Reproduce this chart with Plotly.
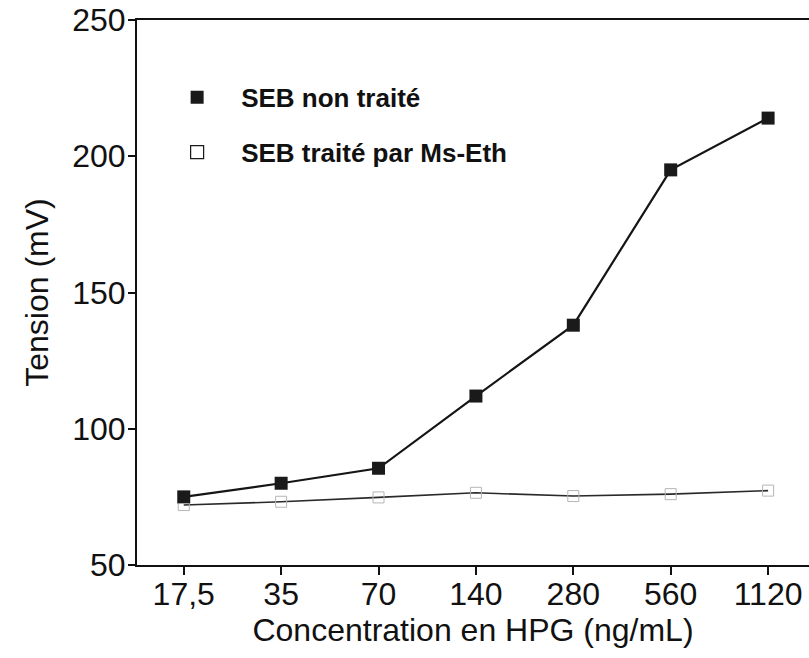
import plotly.graph_objects as go

concentrations = ["17,5", "35", "70", "140", "280", "560", "1120"]
seb_non_traite = [75, 80, 85.5, 112, 138, 195, 214]
seb_traite = [72, 73.2, 74.8, 76.5, 75.3, 76, 77.3]

fig = go.Figure()

# lignes + marqueurs
fig.add_trace(go.Scatter(
    x=concentrations, y=seb_traite, mode="lines+markers",
    line=dict(color="#2a2a2a", width=1.6),
    marker=dict(symbol="square-open", size=11, color="#b5b5b5", line=dict(width=1)),
    showlegend=False, cliponaxis=False))
fig.add_trace(go.Scatter(
    x=concentrations, y=seb_non_traite, mode="lines+markers",
    line=dict(color="#151515", width=2.2),
    marker=dict(symbol="square", size=13, color="#1a1a1a"),
    showlegend=False, cliponaxis=False))

# entrees de legende (marqueurs seuls)
fig.add_trace(go.Scatter(x=[None], y=[None], mode="markers", name="SEB non traité",
                         marker=dict(symbol="square", size=13, color="#1a1a1a"),
                         legendgroup="a"))
fig.add_trace(go.Scatter(x=[None], y=[None], mode="markers", name="SEB traité par Ms-Eth",
                         marker=dict(symbol="square-open", size=13, color="#1a1a1a",
                                     line=dict(width=1.2)),
                         legendgroup="b"))

fig.update_layout(
    width=809, height=658,
    margin=dict(l=137, r=0, t=20, b=93),
    paper_bgcolor="white", plot_bgcolor="white",
    font=dict(family="Liberation Sans, Arial, sans-serif", color="#111111", size=32),
    legend=dict(x=0.024, y=0.901, xanchor="left", yanchor="top",
                font=dict(size=26, family="Liberation Sans, Arial, sans-serif",
                          weight="bold"),
                itemwidth=78, tracegroupgap=18, traceorder="grouped",
                bgcolor="rgba(0,0,0,0)"),
)

fig.update_xaxes(
    type="category", range=[-0.48, 6.42], automargin=False,
    showline=True, linecolor="#111111", linewidth=2, mirror=True,
    ticks="outside", ticklen=8, tickwidth=1.5, tickcolor="#111111",
    showgrid=False, zeroline=False, ticklabeloverflow="allow",
    ticklabelstandoff=-8,
    tickfont=dict(size=32),
    title=dict(text="Concentration en HPG (ng/mL)", font=dict(size=32), standoff=0),
)
fig.update_yaxes(
    range=[50, 250], tickvals=[50, 100, 150, 200, 250], automargin=False,
    showline=True, linecolor="#111111", linewidth=2,
    ticks="outside", ticklen=7, tickwidth=1.5, tickcolor="#111111",
    showgrid=False, zeroline=False, ticklabeloverflow="allow",
    ticklabelstandoff=-4,
    tickfont=dict(size=32),
    title=dict(text="Tension (mV)", font=dict(size=32), standoff=14),
)

# pas de marge de page autour du graphique, pas de barre d'outils
fig.write_html("out.html", config={"displayModeBar": False},
               post_script="document.body.style.margin='0';")
